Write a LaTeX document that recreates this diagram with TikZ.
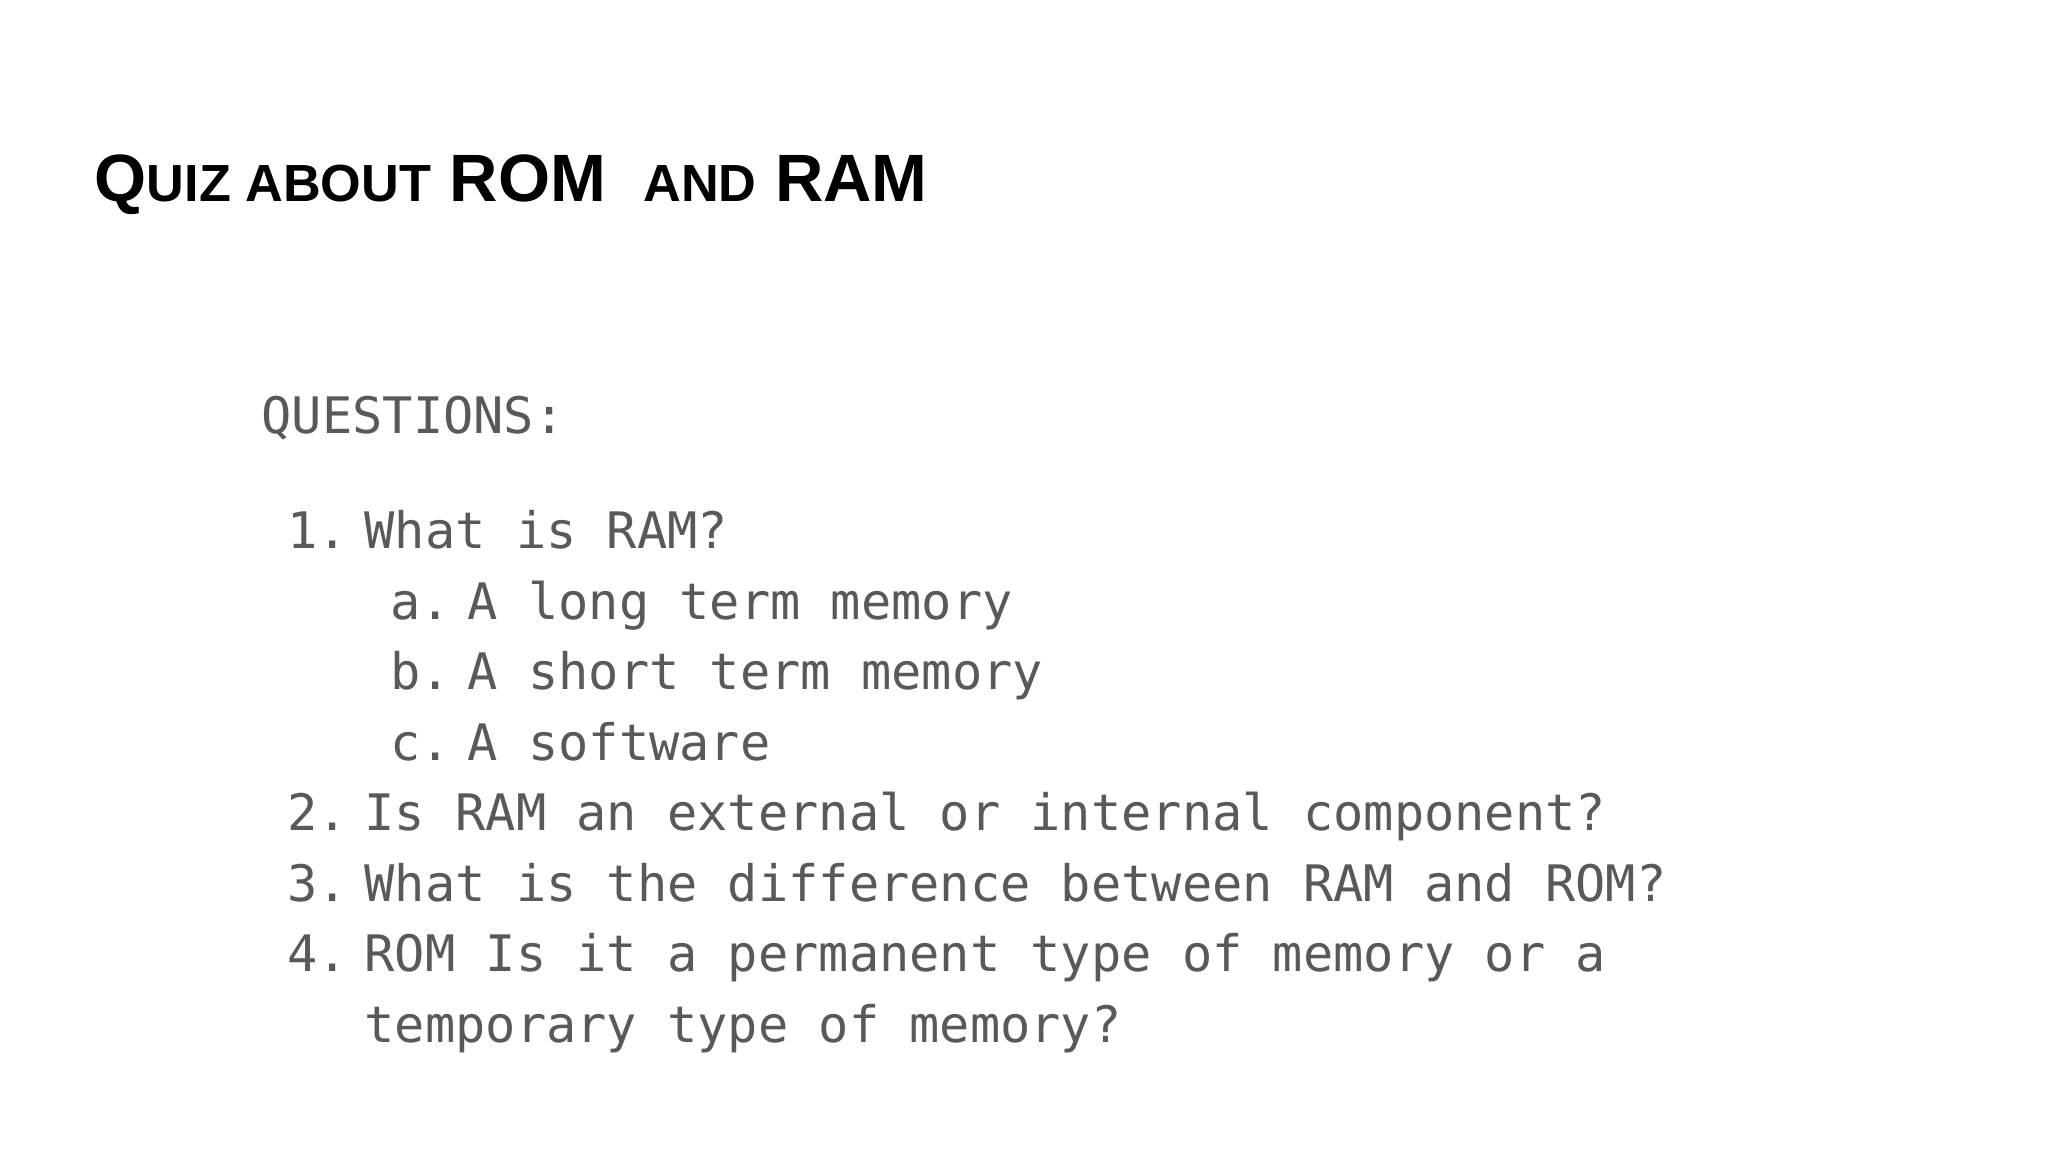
\documentclass[tikz,border=0pt]{standalone}
\usepackage{fontspec}
\setmainfont{Liberation Sans}
\newfontfamily\monof{DejaVu Sans Mono}
\newfontfamily\titlef{Liberation Sans}
\definecolor{txt}{HTML}{595959}
\begin{document}
\begin{tikzpicture}[x=0.01cm,y=-0.01cm,
  q/.style={anchor=base west,inner sep=0pt,text=txt,font=\monof\fontsize{14.3pt}{17pt}\selectfont}]
\useasboundingbox[fill=white] (0,0) rectangle (2048,1152);
\node[anchor=base west,inner sep=0pt] (title) at (94,202) {\resizebox{833\dimexpr0.01cm\relax}{!}{\titlef\bfseries\fontsize{40pt}{44pt}\selectfont Q\scalebox{0.78}{UIZ ABOUT} ROM\ \ \scalebox{0.78}{AND} RAM}};
\node[q] (head) at (261,434) {QUESTIONS:};
\node[q] (n1) at (287,548.6) {1.};
\node[q] (t1) at (364,548.6) {What is RAM?};
\node[q] (na) at (390,619.1) {a.};
\node[q] (ta) at (467,619.1) {A long term memory};
\node[q] (nb) at (390,689.6) {b.};
\node[q] (tb) at (467,689.6) {A short term memory};
\node[q] (nc) at (390,760.1) {c.};
\node[q] (tc) at (467,760.1) {A software};
\node[q] (n2) at (287,830.6) {2.};
\node[q] (t2) at (364,830.6) {Is RAM an external or internal component?};
\node[q] (n3) at (287,901.1) {3.};
\node[q] (t3) at (364,901.1) {What is the difference between RAM and ROM?};
\node[q] (n4) at (287,971.6) {4.};
\node[q] (t4) at (364,971.6) {ROM Is it a permanent type of memory or a};
\node[q] (t4b) at (364,1042.1) {temporary type of memory?};
\end{tikzpicture}
\end{document}
